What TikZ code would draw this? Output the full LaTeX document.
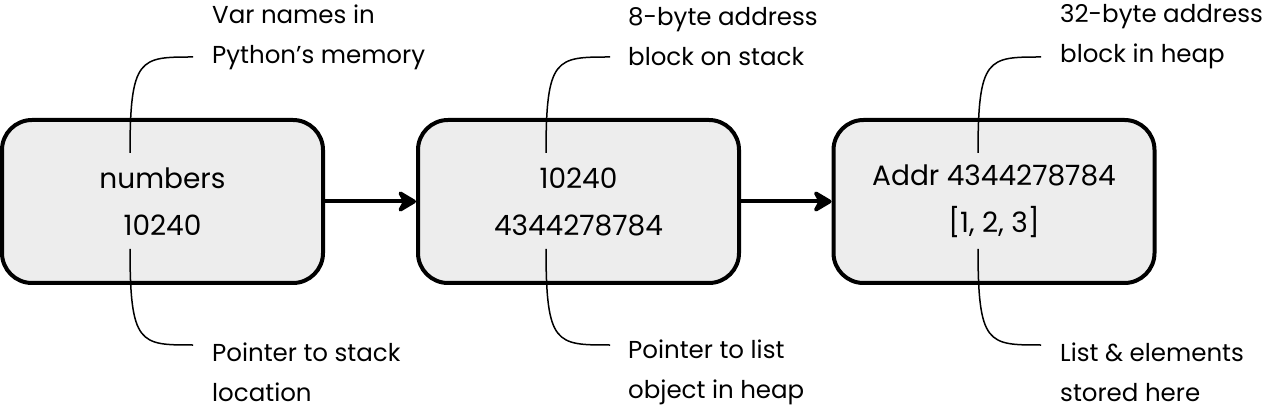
\documentclass[tikz,border=0pt]{standalone}
\usepackage{fontspec}
\setmainfont{Poppins}
\usetikzlibrary{arrows.meta}
\begin{document}
\begin{tikzpicture}[x=1pt,y=-1pt,
  membox/.style={draw=black, line width=4pt, fill=black!7, rounded corners=30pt,
    minimum width=321pt, minimum height=163pt, align=center, inner sep=0pt,
    font=\fontsize{28}{47}\selectfont},
  note/.style={anchor=west, align=left, inner sep=0pt, font=\fontsize{24.5}{40}\selectfont},
  callout/.style={line width=1.5pt},
  link/.style={line width=4pt, -{Stealth[length=22pt,width=26pt,inset=7pt,round]}}]
\useasboundingbox (0,0) rectangle (1265,411);
\node[membox] (b1) at (162.5,201.5) {numbers\\10240};
\node[membox] (b2) at (578.5,201.5) {10240\\4344278784};
\node[membox] (b3) at (994,201.5) {Addr 4344278784\\{}[1, 2, 3]};
\draw[link] (b1.east) -- (b2.west);
\draw[link] (b2.east) -- (b3.west);
% top callouts
\coordinate (t1s) at (130,153); \coordinate (t1e) at (193,57);
\coordinate (t2s) at (546,153); \coordinate (t2e) at (610,57);
\coordinate (t3s) at (978,153); \coordinate (t3e) at (1041,57);
\draw[callout] (t1s) .. controls (130,57) and (140,57) .. (t1e);
\draw[callout] (t2s) .. controls (546,57) and (556,57) .. (t2e);
\draw[callout] (t3s) .. controls (978,57) and (988,57) .. (t3e);
% bottom callouts
\coordinate (u1s) at (130,249); \coordinate (u1e) at (193,345);
\coordinate (u2s) at (546,249); \coordinate (u2e) at (610,345);
\coordinate (u3s) at (978,249); \coordinate (u3e) at (1041,345);
\draw[callout] (u1s) .. controls (130,345) and (140,345) .. (u1e);
\draw[callout] (u2s) .. controls (546,345) and (556,345) .. (u2e);
\draw[callout] (u3s) .. controls (978,345) and (988,345) .. (u3e);
% labels
\node[note] (n1) at (212,37) {Var names in\\Python’s memory};
\node[note] (n2) at (628,37) {8-byte address\\block on stack};
\node[note] (n3) at (1060,37) {32-byte address\\block in heap};
\node[note] (m1) at (212,372) {Pointer to stack\\location};
\node[note] (m2) at (628,372) {Pointer to list\\object in heap};
\node[note] (m3) at (1060,372) {List \& elements\\stored here};
\end{tikzpicture}
\end{document}
